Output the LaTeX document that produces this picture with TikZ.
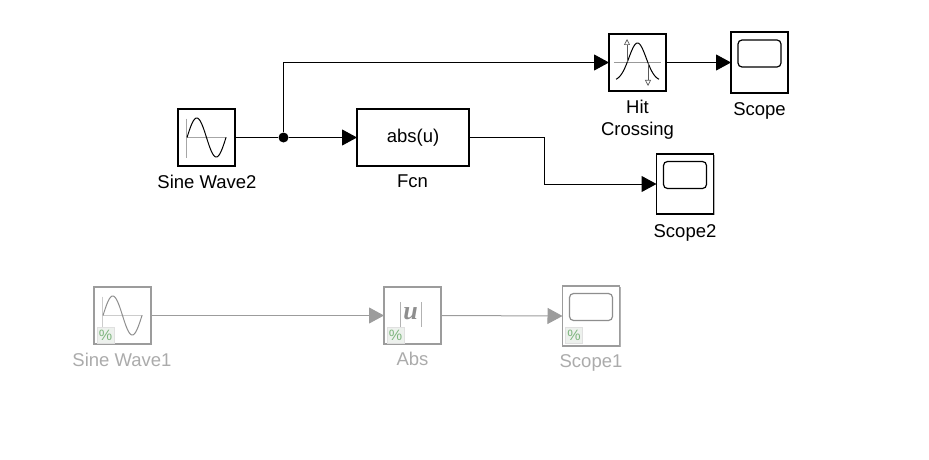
\documentclass[tikz,border=0pt]{standalone}
\usepackage{fontspec}
\setmainfont{Liberation Sans}
\newfontfamily\ufont{Liberation Serif}
\usetikzlibrary{arrows.meta,shadows}
\definecolor{dimline}{HTML}{9C9C9C}
\definecolor{dimtext}{HTML}{ABABAB}
\definecolor{dimicon}{HTML}{8E8E8E}
\definecolor{badgegreen}{HTML}{7DB57D}
\definecolor{badgefill}{HTML}{EDF1ED}
\tikzset{
	blockbox/.style={draw=#1, fill=white, line width=1.2pt, outer sep=0pt, inner sep=0pt, minimum width=57pt, minimum height=57pt,
		drop shadow={shadow xshift=1.2pt, shadow yshift=-1.2pt, opacity=0.3, fill=black}},
	blockbox/.default=black,
	blocklabel/.style={text=#1, inner sep=0pt, align=center, font=\fontsize{18.5}{22}\selectfont},
	blocklabel/.default=black,
	signal/.style={draw=#1, line width=1pt, -{Triangle[length=15pt,width=16pt]}},
	signal/.default=black,
	badge/.style={draw=black!12, fill=badgefill, text=badgegreen, inner sep=0pt, minimum width=17pt, minimum height=16pt, font=\fontsize{15}{15}\selectfont}
}
% Icons, all placed around the block centre
\newcommand{\sineicon}[4]{
	\begin{scope}[shift={(#1,#2)}]
		\draw [#3, line width=0.6pt] (-20,0) -- (20,0);
		\draw [#3, line width=0.6pt] (-20,-19) -- (-20,20);
		\draw [#4, line width=1pt] plot [domain=-19.5:19.5, samples=50, smooth] (\x,{-19.5*sin((\x+19.5)*360/39)});
	\end{scope}
}
\newcommand{\scopeicon}[3]{
	\draw [#3, line width=1.2pt, rounded corners=4pt] (#1-21.5,#2-22.5) rectangle (#1+21.5,#2+4.5);
}
\begin{document}
\begin{tikzpicture}[x=1pt, y=-1pt]
	\useasboundingbox (0,0) rectangle (929,460);
	% Upper blocks
	\node [blockbox] (sinetwo) at (206.5,137.5) {};
	\node [blockbox, minimum width=112pt] (fcn) at (413,137.5) {};
	\node [blockbox] (hit) at (637.5,62.5) {};
	\node [blockbox, minimum height=61pt] (scope) at (759.5,62.5) {};
	\node [blockbox, minimum height=60pt] (scopetwo) at (685,184) {};
	% Lower blocks
	\node [blockbox=dimline] (sineone) at (122.5,315.5) {};
	\node [blockbox=dimline] (abs) at (412.5,315.5) {};
	\node [blockbox=dimline, minimum height=60pt] (scopeone) at (591,316) {};
	% Icons
	\sineicon{206.5}{137.5}{black!35}{black}
	\sineicon{122.5}{315.5}{black!20}{dimicon}
	\foreach \bx/\by/\col in {759.5/62.5/black, 685/184/black, 591/316/dimicon} {
		\scopeicon{\bx}{\by}{\col}
	}
	\node [blocklabel] (fcntext) at (413,137.5) {abs(u)};
	% Hit Crossing icon
	\draw [black!40, line width=0.8pt] (614,62.5) -- (661,62.5);
	\draw [black, line width=1pt] plot [domain=-21.5:21.5, samples=50, smooth] (637.5+\x,{81-38*exp(-(\x*\x)/150)});
	\draw [black!65, line width=0.7pt, -{Triangle[open, length=6pt, width=6pt]}] (627,62.5) -- (627,39);
	\draw [black!65, line width=0.7pt, -{Triangle[open, length=6pt, width=6pt]}] (648,62.5) -- (648,86);
	% Abs icon
	\foreach \bx in {400,421} {
		\draw [black!30, line width=1pt] (\bx,302) -- (\bx,327);
	}
	\node [text=dimicon, inner sep=0pt, font=\ufont\fontsize{26}{26}\selectfont\bfseries\itshape] (uletter) at (410.5,314) {u};
	% Percent marks
	\node [badge] (badgea) at (105.5,335.5) {\%};
	\node [badge] (badgeb) at (395.5,335.5) {\%};
	\node [badge] (badgec) at (574,335.5) {\%};
	% Labels
	\node [blocklabel] (sinetwolabel) at (207,182) {Sine Wave2};
	\node [blocklabel] (fcnlabel) at (412.5,181) {Fcn};
	\node [blocklabel] (hitlabel) at (637.5,120) {Hit\\Crossing};
	\node [blocklabel] (scopelabel) at (759.5,111) {Scope};
	\node [blocklabel] (scopetwolabel) at (685,233) {Scope2};
	\node [blocklabel=dimtext] (sineonelabel) at (122,360) {Sine Wave1};
	\node [blocklabel=dimtext] (abslabel) at (412.5,359) {Abs};
	\node [blocklabel=dimtext] (scopeonelabel) at (591,363) {Scope1};
	% Signals
	\node [circle, fill=black, inner sep=0pt, minimum size=10pt] (branch) at (283.5,137.5) {};
	\coordinate (bendf) at (544,137.5);
	\draw [line width=1pt] (sinetwo.east) -- (branch);
	\draw [signal] (branch) -- (fcn.west);
	\draw [signal] (branch) |- (hit.west);
	\draw [signal] (hit.east) -- (scope.west);
	\draw [signal] (fcn.east) -- (bendf) |- (scopetwo.west);
	\draw [signal=dimline] (sineone.east) -- (abs.west);
	\draw [signal=dimline] (abs.east) -- (scopeone.west);
\end{tikzpicture}
\end{document}
